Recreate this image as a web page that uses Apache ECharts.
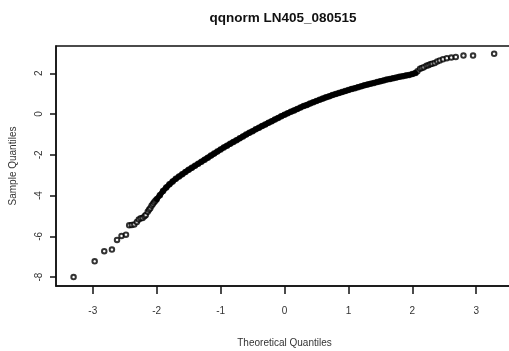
<!DOCTYPE html>
<html>
<head>
<meta charset="utf-8">
<script src="https://cdn.jsdelivr.net/npm/echarts@6/dist/echarts.min.js"></script>
<style>
  html, body { margin: 0; padding: 0; background: #fff; }
  #chart { width: 509px; height: 351px; }
</style>
</head>
<body>
<div id="chart"></div>
<script>
// Normal Q-Q plot of LN405_080515: theoretical vs sample quantiles.

// Sparse lower tail (individual points)
const lowTailX = [-3.30, -2.97, -2.82, -2.70, -2.62, -2.55, -2.48, -2.43, -2.39, -2.35, -2.31, -2.28, -2.25, -2.22, -2.19, -2.17, -2.14, -2.12, -2.10, -2.08, -2.06, -2.04, -2.02];
const lowTailY = [-8.00, -7.23, -6.73, -6.65, -6.18, -5.98, -5.92, -5.46, -5.44, -5.42, -5.30, -5.18, -5.12, -5.10, -5.02, -4.95, -4.80, -4.70, -4.62, -4.50, -4.42, -4.33, -4.25];

// Dense central body of the sample
const bodyX = [-2.00, -1.95, -1.90, -1.85, -1.80, -1.75, -1.70, -1.65, -1.60, -1.55, -1.50, -1.45, -1.40, -1.35, -1.30, -1.25, -1.20, -1.15, -1.10, -1.05,
               -1.00, -0.95, -0.90, -0.85, -0.80, -0.75, -0.70, -0.65, -0.60, -0.55, -0.50, -0.45, -0.40, -0.35, -0.30, -0.25, -0.20, -0.15, -0.10, -0.05,
                0.00,  0.05,  0.10,  0.15,  0.20,  0.25,  0.30,  0.35,  0.40,  0.45,  0.50,  0.55,  0.60,  0.65,  0.70,  0.75,  0.80,  0.85,  0.90,  0.95,
                1.00,  1.05,  1.10,  1.15,  1.20,  1.25,  1.30,  1.35,  1.40,  1.45,  1.50,  1.55,  1.60,  1.65,  1.70,  1.75,  1.80,  1.85,  1.90,  1.95,
                2.00,  2.05];
const bodyY = [-4.18, -3.98, -3.78, -3.60, -3.45, -3.31, -3.18, -3.06, -2.95, -2.84, -2.74, -2.64, -2.54, -2.44, -2.34, -2.24, -2.14, -2.04, -1.94, -1.84,
               -1.74, -1.64, -1.55, -1.46, -1.37, -1.28, -1.19, -1.10, -1.01, -0.92, -0.84, -0.75, -0.67, -0.59, -0.51, -0.43, -0.35, -0.27, -0.19, -0.11,
               -0.03,  0.04,  0.11,  0.18,  0.25,  0.32,  0.39,  0.45,  0.52,  0.58,  0.64,  0.70,  0.76,  0.82,  0.87,  0.93,  0.98,  1.03,  1.08,  1.13,
                1.18,  1.23,  1.27,  1.32,  1.36,  1.41,  1.45,  1.49,  1.53,  1.57,  1.61,  1.65,  1.69,  1.72,  1.76,  1.79,  1.83,  1.86,  1.89,  1.92,
                1.96,  2.02];

// Sparse upper tail
const highTailX = [2.08, 2.12, 2.15, 2.18, 2.22, 2.25, 2.28, 2.31, 2.35, 2.39, 2.43, 2.48, 2.54, 2.61, 2.68, 2.80, 2.95, 3.28];
const highTailY = [2.10, 2.22, 2.26, 2.30, 2.37, 2.40, 2.45, 2.47, 2.50, 2.58, 2.63, 2.69, 2.74, 2.77, 2.80, 2.87, 2.87, 2.96];

const xTicks = [-3, -2, -1, 0, 1, 2, 3];
const yTicks = [-8, -6, -4, -2, 0, 2];

const zip = (xs, ys) => xs.map((x, i) => [x, ys[i]]);
const allPoints = zip(lowTailX, lowTailY).concat(zip(bodyX, bodyY), zip(highTailX, highTailY));
const bodyPoints = zip(bodyX, bodyY);

const FONT = '"Liberation Sans", Arial, sans-serif';
const INK = '#111';
const chart = echarts.init(document.getElementById('chart'), null, { renderer: 'canvas' });

chart.setOption({
  animation: false,
  backgroundColor: '#ffffff',
  title: {
    text: 'qqnorm LN405_080515',
    left: 278, top: 6, textAlign: 'center',
    textStyle: { fontFamily: FONT, fontSize: 13.5, fontWeight: 'bold', color: '#111' }
  },
  grid: {
    left: 56, top: 46, width: 457, height: 240,
    outerBoundsMode: 'none', containLabel: false,
    show: true, borderColor: INK, borderWidth: 1.5, backgroundColor: 'transparent'
  },
  xAxis: {
    type: 'value', min: -3.575, max: 3.575,
    name: 'Theoretical Quantiles', nameLocation: 'middle', nameGap: 52,
    nameTextStyle: { fontFamily: FONT, fontSize: 10, color: '#333' },
    axisLine: { show: true, onZero: false, lineStyle: { color: INK, width: 1.5 } },
    axisTick: { show: true, length: 8, inside: false, customValues: xTicks,
                lineStyle: { color: INK, width: 1.5 } },
    axisLabel: { customValues: xTicks, margin: 20, fontFamily: FONT, fontSize: 10, color: '#333' },
    splitLine: { show: false }
  },
  yAxis: {
    type: 'value', min: -8.44, max: 3.34,
    name: 'Sample Quantiles', nameLocation: 'middle', nameGap: 38, nameRotate: 90,
    nameTextStyle: { fontFamily: FONT, fontSize: 10, color: '#333' },
    axisLine: { show: true, onZero: false, lineStyle: { color: INK, width: 1.5 } },
    axisTick: { show: true, length: 6, inside: false, customValues: yTicks,
                lineStyle: { color: INK, width: 1.5 } },
    axisLabel: { customValues: yTicks, rotate: 90, margin: 12, fontFamily: FONT, fontSize: 10, color: '#333' },
    splitLine: { show: false }
  },
  series: [
    {
      type: 'scatter', data: allPoints,
      symbol: 'emptyCircle', symbolSize: 4.5,
      itemStyle: { color: '#000', borderColor: '#000', borderWidth: 0.9 },
      z: 2
    },
    {
      // solid band where the points overlap
      type: 'line', data: bodyPoints, symbol: 'none', silent: true,
      lineStyle: { color: '#000', width: 5.5, cap: 'round', join: 'round' },
      z: 3
    }
  ]
});
</script>
</body>
</html>
